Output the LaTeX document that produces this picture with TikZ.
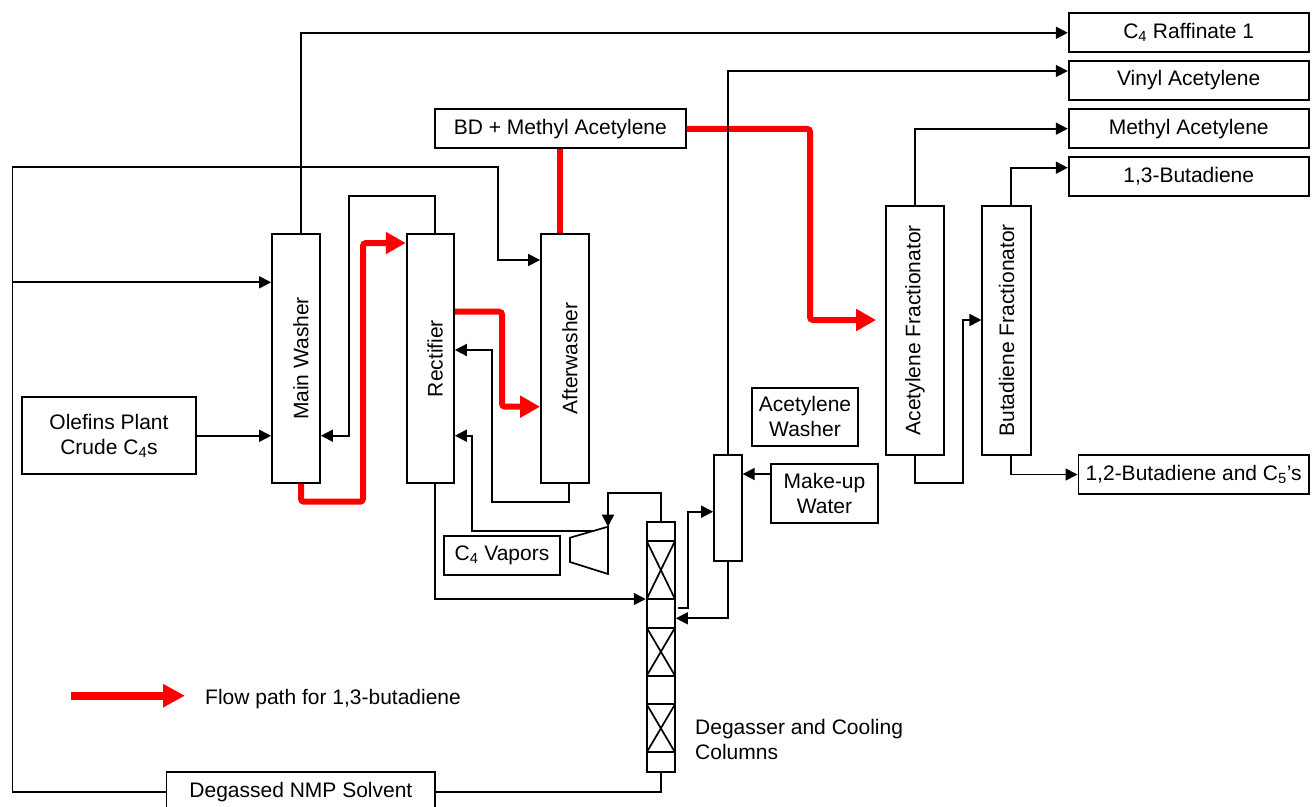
\documentclass[tikz,border=0pt]{standalone}
\usepackage{fontspec}
\setmainfont{Liberation Sans}
\usepackage{graphicx}
\usetikzlibrary{arrows.meta}
\begin{document}
\begin{tikzpicture}[x=1pt,y=-1pt,
  every node/.style={font=\fontsize{21}{25}\selectfont},
  ln/.style={line width=1.7pt, black},
  arr/.style={ln, -{Triangle[length=12pt,width=12pt]}},
  rd/.style={line width=6pt, red, rounded corners=3pt},
  rarr/.style={rd, -{Triangle[length=20pt,width=21pt]}},
  legarr/.style={line width=8pt, red, -{Triangle[length=22pt,width=22pt]}},
  box/.style={draw, line width=1.8pt, inner sep=0pt, align=center},
  txt/.style={inner sep=0pt}
]
\useasboundingbox (0,0) rectangle (1316,806);

% columns
\node[box, minimum width=48pt, minimum height=249pt] (mw) at (296,358.5) {\rotatebox{90}{\rule{0pt}{25pt}Main Washer}};
\node[box, minimum width=47.3pt, minimum height=249pt] (rect) at (430.3,358.5) {\rotatebox{90}{\rule{0pt}{25pt}Rectifier}};
\node[box, minimum width=48pt, minimum height=249pt] (aw) at (565,358.5) {\rotatebox{90}{\rule{0pt}{25pt}Afterwasher}};
\node[box, minimum width=58pt, minimum height=249.3pt] (acfrac) at (915,330.3) {\rotatebox{90}{Acetylene Fractionator}};
\node[box, minimum width=48.7pt, minimum height=249.3pt] (bufrac) at (1006.7,330.3) {\rotatebox{90}{Butadiene Fractionator}};
\node[box, minimum width=27.7pt, minimum height=105.7pt] (acw) at (727.9,507.9) {};
\node[box, minimum width=28.3pt, minimum height=250.3pt] (dg) at (660.8,646.8) {};

% boxes
\node[box, minimum width=250.7pt, minimum height=39pt] (bd) at (560.3,128.8) {BD + Methyl Acetylene};
\node[box, minimum width=240pt, minimum height=39pt] (raff) at (1188.7,32.8) {C\textsubscript{4} Raffinate 1};
\node[box, minimum width=240pt, minimum height=39pt] (vinyl) at (1188.7,80.5) {Vinyl Acetylene};
\node[box, minimum width=240pt, minimum height=39pt] (methyl) at (1188.7,128.7) {Methyl Acetylene};
\node[box, minimum width=240pt, minimum height=39pt] (bu13) at (1188.7,176.7) {1,3-Butadiene};
\node[box, minimum width=230.4pt, minimum height=39pt] (bu12) at (1193.6,474.5) {1,2-Butadiene and C\textsubscript{5}’s};
\node[box, minimum width=173.4pt, minimum height=77pt] (olef) at (109,435.8) {Olefins Plant\\Crude C\textsubscript{4}s};
\node[box, minimum width=106pt, minimum height=57.7pt] (acwl) at (805,416.9) {Acetylene\\Washer};
\node[box, minimum width=106.3pt, minimum height=59pt] (muw) at (824.5,493.8) {Make-up\\Water};
\node[box, minimum width=116pt, minimum height=39pt] (c4v) at (502,555.5) {C\textsubscript{4} Vapors};
\node[box, minimum width=268.8pt, minimum height=40pt] (nmp) at (300.9,792) {Degassed NMP Solvent};

% degasser internals
\foreach \yy in {541,599,627.7,675.7,704.3,752.3} \draw[ln] (646.7,\yy) -- (675,\yy);
\foreach \a/\b in {541/599,627.7/675.7,704.3/752.3} {\draw[ln] (646.7,\a) -- (675,\b) (646.7,\b) -- (675,\a);}

% compressor
\coordinate (cTL) at (570,537.7);
\coordinate (cTR) at (608,526.7);
\coordinate (cBR) at (608,574);
\coordinate (cBL) at (570,562);
\draw[ln, line join=miter] (cTL) -- (cTR) -- (cBR) -- (cBL) -- cycle;
\coordinate (cin) at (594,530.7);

% red flow path
\draw[rarr] ([xshift=5pt]mw.south) |- (363,501.7) |- (rect.west |- 0,243);
\draw[rarr] (rect.east |- 0,311.7) -| (502,406.7) -- (aw.west |- 0,406.7);
\draw[rd] (bd.south) -- (bd.south |- aw.north);
\draw[rarr, shorten >=9pt] (bd.east) -| (810,320) -- (acfrac.west |- 0,320);

% black streams
\coordinate (L) at (12.5,166.7);
\coordinate (J) at (12.5,282.3);
\coordinate (s1) at (678,608);
\draw[arr] ([xshift=5pt]mw.north) |- (raff.west);
\draw[arr] (nmp.west) -| (L) -| (498,260) -- (aw.west |- 0,260);
\draw[ln] (dg.south) |- (nmp.east);
\draw[arr] (J) -- (J -| mw.west);
\draw[arr] (olef.east) -- (olef.east -| mw.west);
\draw[arr] ([xshift=5pt]rect.north) |- (349,195.7) |- (mw.east |- 0,435.7);
\draw[arr] ([xshift=4pt]aw.south) |- (492,502) |- (rect.east |- 0,350);
\draw[arr] (cin) -- (472,530.7) |- (rect.east |- 0,435.7);
\draw[arr] (dg.north) |- (608,493) -- (cTR);
\draw[arr] ([xshift=5pt]rect.south) |- (dg.west |- 0,599);
\draw[arr] (s1) -| (688,511.7) -- (acw.west |- 0,511.7);
\draw[arr] (acw.south) |- (dg.east |- 0,618.3);
\draw[arr] (muw.west |- 0,474) -- (acw.east |- 0,474);
\draw[arr] (acw.north) |- (vinyl.west |- 0,71);
\draw[arr] (acfrac.north) |- (methyl.west);
\draw[arr] ([xshift=4pt]bufrac.north) |- (bu13.west |- 0,167.7);
\draw[arr] (acfrac.south) |- (962.7,483.3) |- (bufrac.west |- 0,320);
\draw[arr] ([xshift=4pt]bufrac.south) |- (bu12.west);

% labels
\node[txt, align=left, anchor=north west] (dgl) at (695,719.5) {Degasser and Cooling\\Columns};
\coordinate (lg1) at (70.5,695.7);
\coordinate (lg2) at (185,695.7);
\draw[legarr] (lg1) -- (lg2);
\node[txt, anchor=base west] (lgt) at (205,704.5) {Flow path for 1,3-butadiene};
\end{tikzpicture}
\end{document}
